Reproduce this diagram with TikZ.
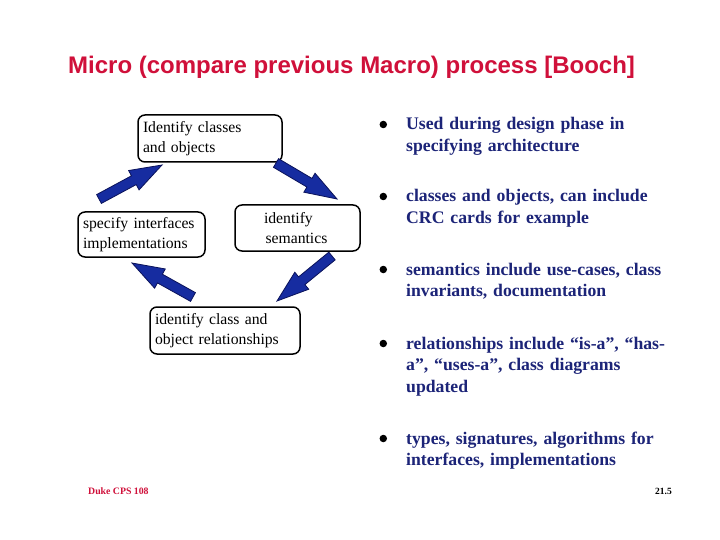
\documentclass[tikz,border=0pt]{standalone}
\usepackage{fontspec}
\setmainfont{Liberation Serif}
\newfontfamily\titlefont{Liberation Sans}
\usetikzlibrary{calc}
\definecolor{titlered}{RGB}{208,16,58}
\definecolor{navytext}{RGB}{28,36,120}
\definecolor{arrowfill}{RGB}{22,44,160}
\definecolor{arrowline}{RGB}{10,18,90}
\tikzset{
  procbox/.style={draw=black, line width=1.5pt, rounded corners=7pt, align=left,
    inner ysep=0pt, font=\fontsize{15.7}{19.5}\selectfont},
  blockarr/.style={fill=arrowfill, draw=arrowline, line width=0.8pt, line join=miter},
  item/.style={anchor=base west, inner sep=0pt, text width=268pt, align=left,
    text=navytext, font=\fontsize{17.7}{21.5}\selectfont\bfseries},
  dot/.style={circle, fill=black, inner sep=0pt, minimum size=7.5pt},
}
\newcommand\blockarrow[2]{%
  \coordinate (ba) at ($(#2)!32pt!(#1)$);
  \draw[blockarr] ($(#1)!5pt!90:(#2)$) -- ($(ba)!5pt!90:(#2)$) -- ($(ba)!11pt!90:(#2)$)
    -- (#2) -- ($(ba)!11pt!-90:(#2)$) -- ($(ba)!5pt!-90:(#2)$) -- ($(#1)!5pt!-90:(#2)$) -- cycle;}
\begin{document}
\begin{tikzpicture}[x=1pt, y=-1pt]
\useasboundingbox[fill=white] (0,0) rectangle (720,540);
% title
\node[anchor=base west, inner sep=0pt, text=titlered, font=\titlefont\fontsize{24}{28}\selectfont\bfseries]
  (title) at (68,73.3) {Micro (compare previous Macro) process [Booch]};
% process boxes
\node[procbox, inner xsep=5pt, text width=134pt, minimum height=47pt] (b1) at (210,138.5)
  {Identify classes\\and objects};
\node[procbox, inner xsep=5pt, text width=117pt, minimum height=45pt] (b2) at (141.5,234.5)
  {specify interfaces\\implementations};
\node[procbox, inner xsep=29pt, text width=67pt, minimum height=46pt] (b3) at (297.5,228)
  {identify\\\hspace*{1.5pt}semantics};
\node[procbox, inner xsep=5pt, text width=140pt, minimum height=47pt] (b4) at (225,330.5)
  {identify class and\\object relationships};
% block arrows
\coordinate (t1) at (99,199);  \coordinate (h1) at (162,165);
\coordinate (t2) at (276,163); \coordinate (h2) at (337,199);
\coordinate (t3) at (332,256); \coordinate (h3) at (277,301);
\coordinate (t4) at (193,297); \coordinate (h4) at (132,263);
\blockarrow{t1}{h1}
\blockarrow{t2}{h2}
\blockarrow{t3}{h3}
\blockarrow{t4}{h4}
% bullets
\node[dot] (d1) at (383.3,124.5) {};
\node[dot] (d2) at (383.3,196.5) {};
\node[dot] (d3) at (383.3,269.5) {};
\node[dot] (d4) at (383.3,343.5) {};
\node[dot] (d5) at (383.3,438.5) {};
\node[item] (i1) at (406,130) {Used during design phase in\\specifying architecture};
\node[item] (i2) at (406,202) {classes and objects, can include\\CRC cards for example};
\node[item] (i3) at (406,275) {semantics include use-cases, class\\invariants, documentation};
\node[item] (i4) at (406,349) {relationships include “is-a”, “has-\\a”, “uses-a”, class diagrams\\updated};
\node[item] (i5) at (406,444) {types, signatures, algorithms for\\interfaces, implementations};
% footer
\node[anchor=base west, inner sep=0pt, text=titlered, font=\fontsize{9.8}{11}\selectfont\bfseries]
  (foot) at (88,494) {Duke CPS 108};
\node[anchor=base west, inner sep=0pt, font=\fontsize{9.5}{11}\selectfont\bfseries]
  (page) at (655,494) {21.5};
\end{tikzpicture}
\end{document}
